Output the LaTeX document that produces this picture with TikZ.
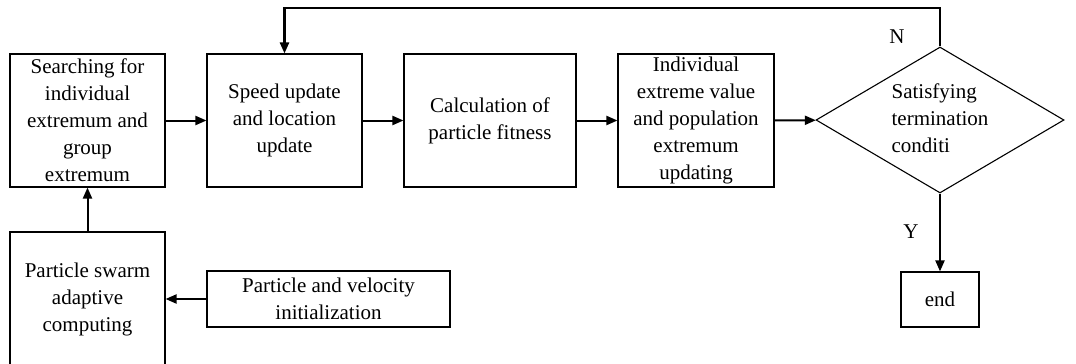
\documentclass[tikz,border=0pt]{standalone}
\usepackage{fontspec}
\setmainfont{Liberation Serif}
\usetikzlibrary{arrows.meta,shapes.geometric}

\tikzset{
    box/.style={draw,line width=1.1pt,inner sep=0pt,align=center,font=\fontsize{21}{27}\selectfont},
    flow/.style={line width=2pt,-{Triangle[length=11pt,width=9pt]}},
}

\begin{document}
\begin{tikzpicture}[x=1pt,y=-1pt]
                \useasboundingbox (0,0) rectangle (1076,364);

                \node[box,minimum width=155pt,minimum height=133pt] (search) at (87.5,120.5) {Searching for\\individual\\extremum and\\group\\extremum};
                \node[box,minimum width=155pt,minimum height=133pt] (speed) at (284.5,120.5) {Speed update\\and location\\update};
                \node[box,minimum width=172pt,minimum height=133pt] (fitness) at (490,120.5) {Calculation of\\particle fitness};
                \node[box,minimum width=156pt,minimum height=133pt] (extreme) at (696,120.5) {Individual\\extreme value\\and population\\extremum\\updating};
                \node[box,shape=diamond,aspect=1.7,minimum width=248pt,minimum height=146pt] (cond) at (940,120) {\begin{tabular}{@{}l@{}}Satisfying\\termination\\conditi\end{tabular}};
                \node[box,minimum width=78pt,minimum height=55pt] (end) at (940,299.5) {end};
                \node[box,minimum width=155pt,minimum height=134pt] (swarm) at (87.5,299) {Particle swarm\\adaptive\\computing};
                \node[box,minimum width=243pt,minimum height=56pt] (init) at (328.5,299) {Particle and velocity\\initialization};

                \coordinate (top right) at (940,8);
                \coordinate (top left) at (284.5,8);

                \draw[flow] (search) -- (speed);
                \draw[flow] (speed) -- (fitness);
                \draw[flow] (fitness) -- (extreme);
                \draw[flow] (extreme) -- (cond);
                \draw[flow] (cond) -- (end);
                \draw[flow] (swarm) -- (search);
                \draw[flow] (init) -- (swarm);
                \draw[flow,line width=2.4pt] (cond.north) -- (top right) -- (top left) -- (speed.north);

                \node[font=\fontsize{21}{27}\selectfont] (no) at (897,37) {N};
                \node[font=\fontsize{21}{27}\selectfont] (yes) at (911,232) {Y};
\end{tikzpicture}
\end{document}
